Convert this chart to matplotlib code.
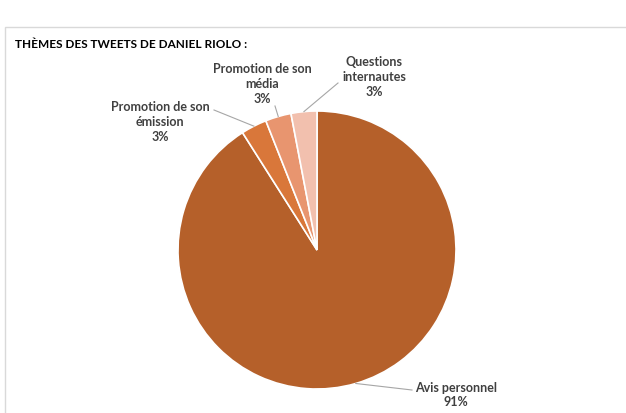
import matplotlib
matplotlib.use('Agg')
import matplotlib.pyplot as plt
from matplotlib.patches import Rectangle
import numpy as np

plt.rcParams['font.family'] = ['Lato', 'DejaVu Sans']

title = "THÈMES DES TWEETS DE DANIEL RIOLO :"
labels = ["Avis personnel", "Promotion de son\némission", "Promotion de son\nmédia", "Questions\ninternautes"]
values = [91, 3, 3, 3]
colors = ["#B5602A", "#D9773A", "#E8956F", "#F2C0AE"]

W, H = 626, 413
fig = plt.figure(figsize=(W / 100, H / 100), dpi=100)

# chart area border
fig.patches.append(Rectangle((5 / W, -0.1), 1.1, 1 - 27 / H + 0.1, transform=fig.transFigure,
                             fill=False, edgecolor="#D9D9D9", linewidth=1))
fig.text(15 / W, 1 - 44 / H, title, fontsize=8.5, fontweight='bold', color="#000000", va='center')

cx, cy, r = 317, 250, 139
ax = fig.add_axes([(cx - r) / W, (H - cy - r) / H, 2 * r / W, 2 * r / H])
wedges, _ = ax.pie(values, colors=colors, startangle=90, counterclock=False, radius=1,
                   wedgeprops=dict(edgecolor='white', linewidth=1.2))
ax.set_xlim(-1, 1)
ax.set_ylim(-1, 1)
ax.set_aspect('equal')
ax.axis('off')


def px(x, y):
    return (x - cx) / r, (cy - y) / r


# label centre and leader line end, in pixels
label_pos = [(456, 395), (160, 122), (262, 84), (374, 77)]
line_end = [(412, 390), (214, 110), (275, 106), (338, 83)]

for w, lab, v, lp, le in zip(wedges, labels, values, label_pos, line_end):
    ang = np.deg2rad((w.theta1 + w.theta2) / 2)
    x0, y0 = np.cos(ang), np.sin(ang)
    x1, y1 = px(*le)
    ax.plot([x0, x1], [y0, y1], color="#A6A6A6", linewidth=0.8, clip_on=False)
    tx, ty = px(*lp)
    ax.text(tx, ty, f"{lab}\n{v}%", ha='center', va='center', fontsize=9, fontweight='bold',
            color="#404040", linespacing=1.28, clip_on=False)

fig.savefig("out.png", dpi=100)
